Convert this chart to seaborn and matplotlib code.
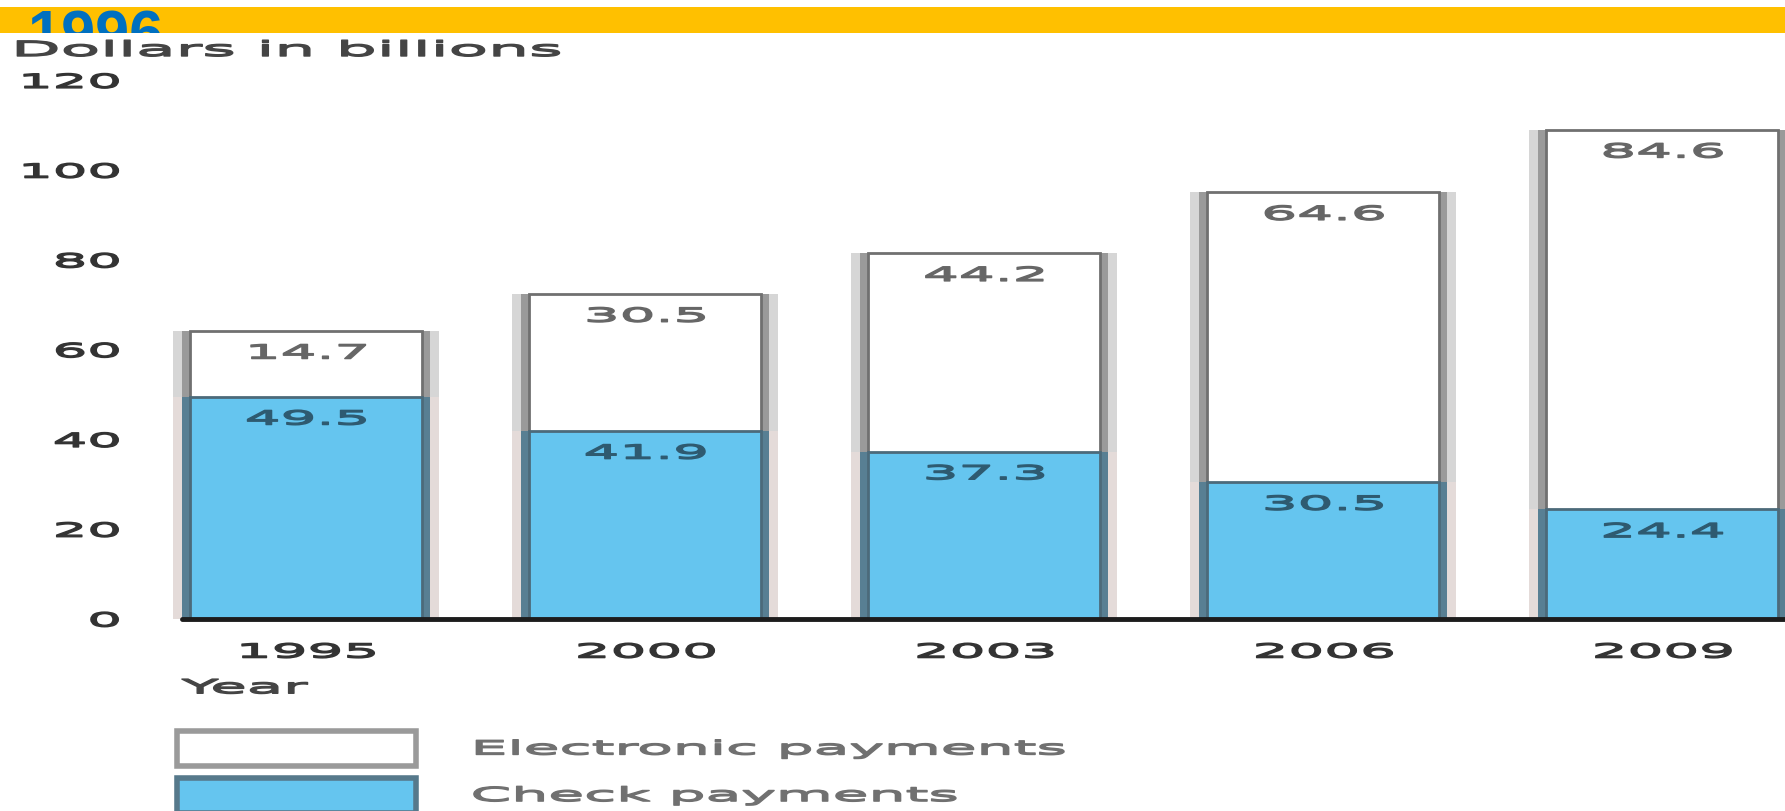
import matplotlib
matplotlib.use("Agg")
import matplotlib.pyplot as plt
import seaborn as sns
import pandas as pd
from matplotlib.patches import Patch
from matplotlib.patheffects import AbstractPathEffect
from matplotlib.transforms import Affine2D

# ---- data ----
years = ["1995", "2000", "2003", "2006", "2009"]
check = [49.5, 41.9, 37.3, 30.5, 24.4]
electronic = [14.7, 30.5, 44.2, 64.6, 84.6]
yticks = [0, 20, 40, 60, 80, 100, 120]
banner_text = "1996"
ylabel_text = "Dollars in billions"
xlabel_text = "Year"
series_names = ["Electronic payments", "Check payments"]


class Stretch(AbstractPathEffect):
    """Widen the glyphs of a text horizontally (the text stays a Text artist)."""

    def __init__(self, sx, anchor="center", lw=1.0):
        super().__init__()
        self.sx = sx
        self.anchor = anchor
        self.lw = lw

    def draw_path(self, renderer, gc, tpath, affine, rgbFace=None):
        v = tpath.vertices
        if len(v) == 0:
            return
        xmin, xmax = v[:, 0].min(), v[:, 0].max()
        px = {"left": 0.0, "center": 0.5 * (xmin + xmax), "right": xmax}[self.anchor]
        t = Affine2D().translate(-px, 0).scale(self.sx, 1.0).translate(px, 0)
        gc0 = renderer.new_gc()
        gc0.copy_properties(gc)
        if self.lw and rgbFace is not None:
            gc0.set_linewidth(self.lw)
            gc0.set_foreground(rgbFace)
        renderer.draw_path(gc0, tpath, t + affine, rgbFace)
        gc0.restore()


sns.set_style("white")
plt.rcParams["font.family"] = ["DejaVu Sans"]

W, H = 1785, 811
fig = plt.figure(figsize=(W / 100, H / 100), dpi=100)

totals = [c + e for c, e in zip(check, electronic)]
df = pd.DataFrame({"year": years, "check": check,
                   "electronic": electronic, "total": totals})

ax = fig.add_axes([182 / W, 1 - 619 / H, 1 - 182 / W, (619 - 80.4) / H])

common = dict(data=df, x="year", saturation=1, errorbar=None, ax=ax)
# electronic segment (drawn as total, then covered by check)
sns.barplot(y="total", color="#D6D6D6", width=0.782, linewidth=0, **common)
sns.barplot(y="total", color="#9A9A9A", width=0.7316, linewidth=0, **common)
sns.barplot(y="total", color="#FFFFFF", width=0.684, edgecolor="#707070",
            linewidth=2, **common)
# check segment
sns.barplot(y="check", color="#E4DBD9", width=0.782, linewidth=0, **common)
sns.barplot(y="check", color="#587F93", width=0.7316, linewidth=0, **common)
sns.barplot(y="check", color="#65C5EF", width=0.684, edgecolor="#4C6A7A",
            linewidth=2, **common)
# light outer shadows may spill slightly left of the axis line
for ci in (0, 3):
    for p in ax.containers[ci]:
        p.set_clip_on(False)

SX = 2.9
FS = 14

# value labels
for i in range(len(years)):
    t1 = ax.annotate(f"{electronic[i]:.1f}", xy=(i, totals[i]), xytext=(0, -16),
                     textcoords="offset points", ha="center", va="center",
                     fontsize=FS, color="#666666", zorder=6)
    t2 = ax.annotate(f"{check[i]:.1f}", xy=(i, check[i]), xytext=(0, -16),
                     textcoords="offset points", ha="center", va="center",
                     fontsize=FS, color="#2E5A70", zorder=6)
    for t in (t1, t2):
        t.set_path_effects([Stretch(SX, "center")])

ax.axhline(0, color="#1C1C1C", lw=3.5, clip_on=False, zorder=5)

ax.set_ylim(0, 120)
ax.set_xlim(-0.3658, 4.363)
ax.set_yticks(yticks)
ax.set_yticklabels([str(t) for t in yticks])
ax.tick_params(axis="y", length=0, pad=45, labelsize=FS, labelcolor="#333333")
ax.tick_params(axis="x", length=0, pad=17, labelsize=FS, labelcolor="#333333")
for lbl in ax.get_yticklabels():
    lbl.set_path_effects([Stretch(2.8, "right")])
for lbl in ax.get_xticklabels():
    lbl.set_path_effects([Stretch(SX, "center")])
for s in ax.spines.values():
    s.set_visible(False)
ax.set_ylabel("")
ax.set_xlabel(xlabel_text, loc="left", fontsize=FS, color="#444444", labelpad=12)
ax.xaxis.label.set_path_effects([Stretch(3.05, "left")])

yl = fig.text(11 / W, 1 - 50 / H, ylabel_text, ha="left", va="center",
              fontsize=15, color="#444444")
yl.set_path_effects([Stretch(3.1, "left")])

# banner
bax = fig.add_axes([0, 1 - 33 / H, 1, 26 / H])
bax.set_facecolor("#FFC000")
bax.set_xticks([])
bax.set_yticks([])
for s in bax.spines.values():
    s.set_visible(False)
bax.text(27 / W, 1 - 54 / H, banner_text, transform=fig.transFigure,
         fontsize=44, fontweight="bold", family="Liberation Sans",
         color="#0070C0", va="baseline", ha="left", clip_on=True)

# legend
handles = [Patch(facecolor="#FFFFFF", edgecolor="#9A9A9A", lw=4),
           Patch(facecolor="#65C5EF", edgecolor="#56798B", lw=4)]
leg = fig.legend(handles, series_names, loc="upper left",
                 bbox_to_anchor=(177 / W, 1 - 731 / H), bbox_transform=fig.transFigure,
                 frameon=False, fontsize=FS, labelcolor="#707070",
                 handlelength=12.3, handleheight=2.39, labelspacing=0.6,
                 handletextpad=2.8, borderpad=0, borderaxespad=0)
for t in leg.get_texts():
    t.set_path_effects([Stretch(3.0, "left")])

fig.savefig("out.png", dpi=100)
